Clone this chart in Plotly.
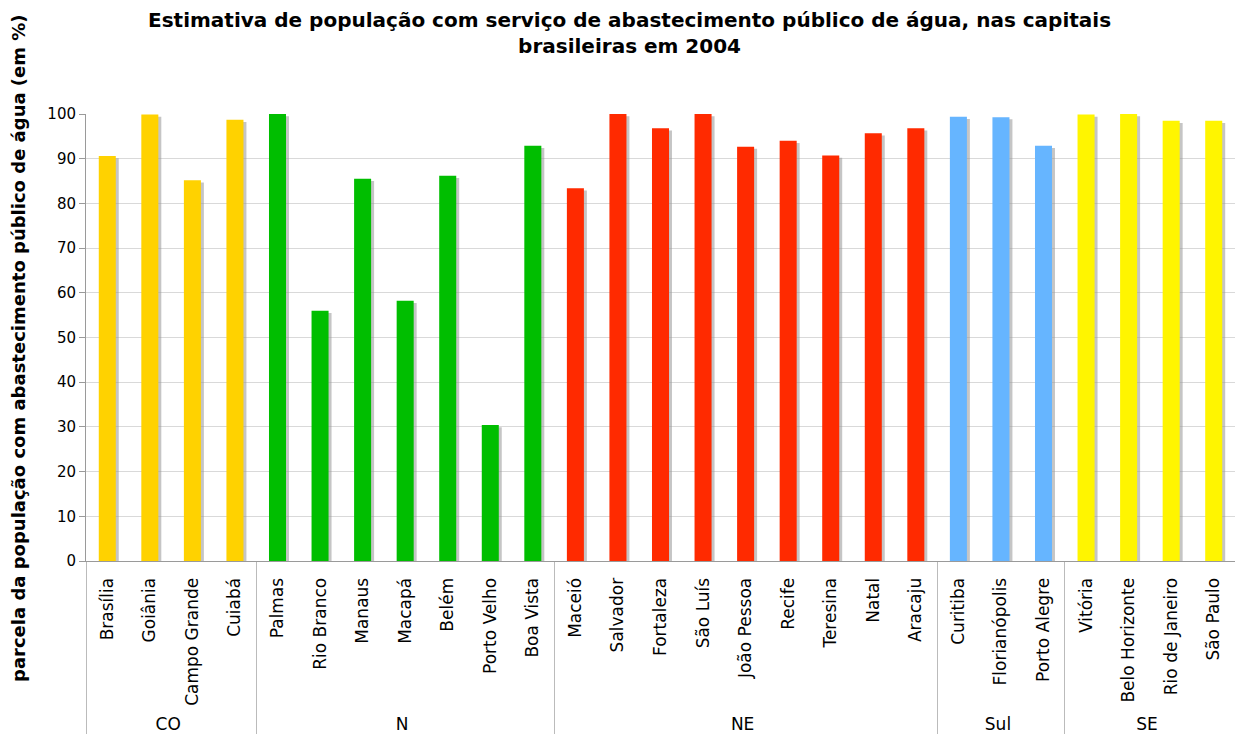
import plotly.graph_objects as go

regions = ["CO"] * 4 + ["N"] * 7 + ["NE"] * 9 + ["Sul"] * 3 + ["SE"] * 4
cities = ["Brasília", "Goiânia", "Campo Grande", "Cuiabá",
          "Palmas", "Rio Branco", "Manaus", "Macapá", "Belém", "Porto Velho", "Boa Vista",
          "Maceió", "Salvador", "Fortaleza", "São Luís", "João Pessoa", "Recife", "Teresina", "Natal", "Aracaju",
          "Curitiba", "Florianópolis", "Porto Alegre",
          "Vitória", "Belo Horizonte", "Rio de Janeiro", "São Paulo"]
values = [90.6, 99.9, 85.2, 98.7,
          100.0, 56.0, 85.5, 58.2, 86.2, 30.4, 92.9,
          83.4, 100.0, 96.8, 100.0, 92.7, 94.0, 90.7, 95.7, 96.8,
          99.4, 99.3, 92.9,
          99.9, 100.0, 98.5, 98.5]
region_colors = {"CO": "#FFD200", "N": "#00BE00", "NE": "#FF2A00", "Sul": "#66B5FF", "SE": "#FFF500"}
yticks = list(range(0, 101, 10))

colors = [region_colors[r] for r in regions]
shadow_vals = [v - 0.5 for v in values]

FONT = "DejaVu Sans"

fig = go.Figure()
fig.add_trace(go.Bar(
    x=[regions, cities], y=shadow_vals,
    marker=dict(color="rgba(150,150,150,0.55)", line=dict(width=0)),
    width=0.4, offset=-0.13, hoverinfo="skip", showlegend=False,
))
fig.add_trace(go.Bar(
    x=[regions, cities], y=values,
    marker=dict(color=colors, line=dict(width=0)),
    width=0.4, offset=-0.2, showlegend=False,
))

fig.update_layout(
    width=1235, height=742,
    barmode="overlay",
    plot_bgcolor="white", paper_bgcolor="white",
    margin=dict(l=86, r=0, t=114, b=181),
    font=dict(family=FONT, color="#000000"),
    xaxis=dict(
        type="multicategory",
        tickangle=-90,
        tickfont=dict(family=FONT, size=17, color="#000000"),
        showline=True, linecolor="#9a9a9a", linewidth=1,
        showdividers=True, dividercolor="#bbbbbb", dividerwidth=1,
        ticks="", ticklabelstandoff=9,
        showgrid=False,
    ),
    yaxis=dict(
        range=[0, 100], tickvals=yticks,
        tickfont=dict(family=FONT, size=15, color="#000000"),
        showline=True, linecolor="#9a9a9a", linewidth=1,
        ticks="outside", ticklen=6, tickcolor="#9a9a9a",
        showgrid=True, gridcolor="#d9d9d9", gridwidth=1,
        zeroline=False,
    ),
    annotations=[
        dict(
            text="<b>Estimativa de população com serviço de abastecimento público de água, nas capitais<br>brasileiras em 2004</b>",
            xref="paper", yref="paper", x=0.4726, y=1.181,
            xanchor="center", yanchor="middle", align="center",
            showarrow=False, font=dict(family=FONT, size=20, color="#000000"),
        ),
        dict(
            text="<b>parcela da população com abastecimento público de água (em %)</b>",
            textangle=-90, xref="paper", yref="paper",
            x=-0.0592, y=0.4765, xanchor="center", yanchor="middle",
            showarrow=False, font=dict(family=FONT, size=18, color="#000000"),
        ),
    ],
)

fig.write_html("out.html")
